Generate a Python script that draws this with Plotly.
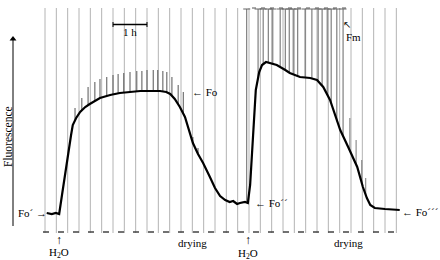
import numpy as np
import plotly.graph_objects as go

# ---- data (time in minutes, fluorescence in arbitrary units) ----
trace_t = [3, 12, 19, 25, 30, 35, 41, 46, 49, 55, 62, 71, 79, 97, 115, 132, 150, 168, 185, 203,
           214, 221, 229, 238, 247, 252, 261, 270, 279, 291, 300, 309, 318, 326, 332, 339, 344, 353, 358,
           362, 367, 372, 378, 383, 390, 397, 409, 424, 432, 450, 468, 480, 491, 503, 512, 521,
           535, 544, 551, 561, 568, 574, 582, 600, 626]
trace_f = [19, 18, 19, 18, 37, 57, 77, 97, 107, 114, 120, 125, 128, 134, 137, 139, 140, 141, 141, 141,
           140, 138, 133, 125, 115, 105, 89, 78, 69, 55, 44, 36, 32, 30, 31, 28, 29, 30, 29,
           47, 97, 142, 160, 167, 170, 169, 167, 162, 159, 155, 154, 152, 145, 132, 117, 102,
           85, 74, 65, 45, 34, 27, 24, 23, 22]

# saturating pulses (spike top values)
pulse1_t = [53, 65, 76, 88, 97, 109, 120, 129, 139, 150, 162, 171, 180, 191, 199, 208, 215, 224, 235, 244, 261, 270]
pulse1_top = [124, 134, 145, 150, 153, 155, 157, 158, 159, 160, 161, 161, 162, 162, 162, 161, 160, 155, 147, 140, 95, 84]

pulse2_t = [356, 376, 385, 394, 402, 415, 424, 431, 438, 446, 459, 471, 482, 489, 498, 505, 515, 526]
pulse2_top = [223] * 18

pulse3_t = [538, 549, 559, 566]
pulse3_top = [114, 92, 72, 54]

grid_t = list(range(0, 621, 20))   # chart paper lines every 20 min

W, H = 440, 260
T0, TPX = 45, 60 / 34      # px of t=0, minutes per pixel
def tx(px): return (px - T0) * TPX
def fy(py): return 232 - py

fig = go.Figure()

# chart paper grid
gx, gy = [], []
for t in grid_t:
    gx += [t, t, None]
    gy += [fy(233), fy(8), None]
fig.add_trace(go.Scatter(x=gx, y=gy, mode="lines", line=dict(color="#b4b4b4", width=1),
                         hoverinfo="skip", showlegend=False))

# bottom event baseline
fig.add_trace(go.Scatter(x=[tx(43), tx(400)], y=[fy(232), fy(232)], mode="lines",
                         line=dict(color="#444", width=1.5, dash="6px,9px"),
                         hoverinfo="skip", showlegend=False))

def spikes(ts, tops, color, width, cap):
    xs, ys = [], []
    base = np.interp(ts, trace_t, trace_f)
    for t, b, top in zip(ts, base, tops):
        xs += [t, t, None]
        ys += [b, top, None]
    fig.add_trace(go.Scatter(x=xs, y=ys, mode="lines", line=dict(color=color, width=width),
                             hoverinfo="skip", showlegend=False))
    if cap:
        fig.add_trace(go.Scatter(x=ts, y=tops, mode="markers",
                                 marker=dict(symbol="line-ew", size=5, line=dict(color=color, width=1)),
                                 hoverinfo="skip", showlegend=False))

spikes(pulse1_t, pulse1_top, "#555", 1, False)
spikes(pulse2_t, pulse2_top, "#666", 1, True)
spikes(pulse3_t, pulse3_top, "#777", 1, False)

# fluorescence trace
fig.add_trace(go.Scatter(x=trace_t, y=trace_f, mode="lines", line=dict(color="black", width=2.2),
                         hoverinfo="skip", showlegend=False))

# y-axis arrow (line + head)
fig.add_trace(go.Scatter(x=[tx(13), tx(13)], y=[fy(226), fy(40)], mode="lines",
                         line=dict(color="black", width=1), hoverinfo="skip", showlegend=False))
fig.add_trace(go.Scatter(x=[tx(13)], y=[fy(39)], mode="markers",
                         marker=dict(symbol="triangle-up", size=6, color="black"),
                         hoverinfo="skip", showlegend=False))

FONT = dict(family="Liberation Serif, Times New Roman, serif", color="black", size=11)

def px2paper(x, y):
    return x / W, 1 - y / H

ann = []
def text(x, y, s, size=11, angle=0, xanchor="center"):
    px_, py_ = px2paper(x, y)
    ann.append(dict(x=px_, y=py_, xref="paper", yref="paper", text=s, showarrow=False,
                    font=dict(FONT, size=size), textangle=angle, xanchor=xanchor, yanchor="middle"))

text(8, 137, "Fluorescence", size=11.5, angle=-90)
text(32, 213, "Fo´ →")
text(59, 240, "↑", size=12)
text(59, 253, "H<sub>2</sub>O")
text(192, 243, "drying")
text(248, 240, "↑", size=12)
text(248, 254, "H<sub>2</sub>O")
text(348, 243, "drying")
text(253, 203, "← Fo´´", xanchor="left")
text(190, 92, "← Fo", xanchor="left")
text(400, 212, "← Fo´´´", xanchor="left")
text(353, 37, "Fm")
text(347, 25, "↖", size=10)
text(130, 32, "1 h")

shapes = []
def pline(x0, y0, x1, y1, w=1.5):
    a0, b0 = px2paper(x0, y0)
    a1, b1 = px2paper(x1, y1)
    shapes.append(dict(type="line", xref="paper", yref="paper", x0=a0, y0=b0, x1=a1, y1=b1,
                       line=dict(color="black", width=w)))
# 1 h scale bar
pline(113, 24.5, 147, 24.5, 1.6)
pline(113, 22, 113, 27, 1)
pline(147, 22, 147, 27, 1)
# top dashed line over Fm pulses
a0, b0 = px2paper(252, 8)
a1, b1 = px2paper(346, 8)
shapes.append(dict(type="line", xref="paper", yref="paper", x0=a0, y0=b0, x1=a1, y1=b1,
                   line=dict(color="#555", width=1, dash="4px,5px")))

fig.update_layout(
    width=W, height=H, margin=dict(l=0, r=0, t=0, b=0),
    paper_bgcolor="white", plot_bgcolor="white",
    xaxis=dict(range=[tx(0), tx(W)], visible=False, fixedrange=True),
    yaxis=dict(range=[fy(H), fy(0)], visible=False, fixedrange=True),
    annotations=ann, shapes=shapes, showlegend=False,
)

fig.write_html("out.html", config={"displayModeBar": False},
               post_script="document.body.style.margin='0';document.body.style.overflow='hidden';")
